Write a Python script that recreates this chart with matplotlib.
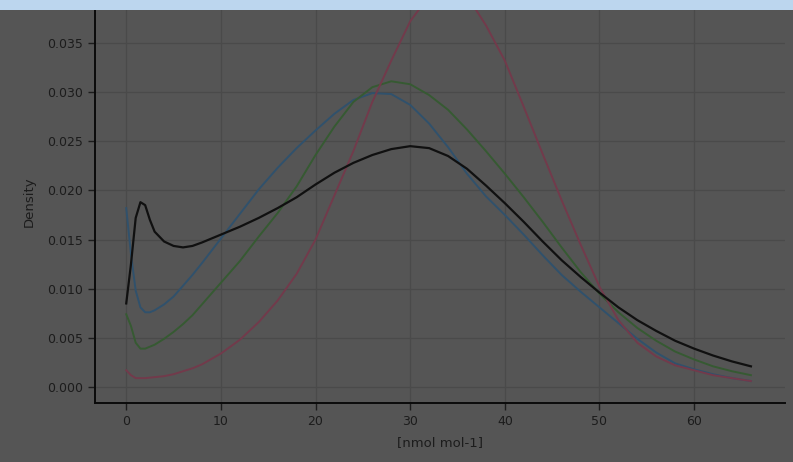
import matplotlib
matplotlib.use("Agg")
import matplotlib.pyplot as plt
from matplotlib.patches import Rectangle

x = [0, 0.5, 1, 1.5, 2, 2.5, 3, 4, 5, 6, 7, 8, 10, 12, 14, 16, 18, 20, 22, 24, 26,
     28, 30, 32, 34, 36, 38, 40, 42, 44, 46, 48, 50, 52, 54, 56, 58, 60, 62, 64, 66]

black = [0.0085, 0.0125, 0.0172, 0.0188, 0.0185, 0.0170, 0.0158, 0.0148, 0.01435, 0.0142,
         0.01435, 0.0147, 0.0155, 0.0163, 0.0172, 0.0182, 0.0193, 0.0206, 0.0218, 0.0228,
         0.0236, 0.0242, 0.0245, 0.0243, 0.0235, 0.0222, 0.0205, 0.0187, 0.0168, 0.0148,
         0.0129, 0.0112, 0.0096, 0.0081, 0.0068, 0.0057, 0.0047, 0.0039, 0.0032, 0.0026, 0.0021]

blue = [0.0182, 0.0135, 0.0098, 0.0081, 0.0076, 0.0076, 0.0078, 0.0084, 0.0092, 0.0103,
        0.0114, 0.0126, 0.0151, 0.0176, 0.0201, 0.0223, 0.0243, 0.0261, 0.0278, 0.0292,
        0.0299, 0.0298, 0.0287, 0.0268, 0.0244, 0.0217, 0.0194, 0.0175, 0.0155, 0.0134,
        0.0114, 0.0097, 0.0081, 0.0065, 0.0049, 0.0035, 0.0024, 0.0018, 0.0013, 0.0009, 0.0006]

green = [0.0074, 0.0062, 0.0045, 0.0039, 0.0039, 0.0041, 0.0043, 0.0049, 0.0056, 0.0064,
         0.0073, 0.0084, 0.0106, 0.0128, 0.0153, 0.0177, 0.0204, 0.0236, 0.0265, 0.0290,
         0.0305, 0.0311, 0.0308, 0.0297, 0.0282, 0.0262, 0.0240, 0.0217, 0.0193, 0.0168,
         0.0142, 0.0117, 0.0095, 0.0076, 0.0060, 0.0047, 0.0036, 0.0028, 0.0021, 0.0016, 0.0012]

red = [0.0017, 0.0012, 0.0009, 0.0009, 0.0009, 0.00095, 0.0010, 0.0011, 0.0013, 0.0016,
       0.0019, 0.0023, 0.0034, 0.0048, 0.0066, 0.0088, 0.0115, 0.0150, 0.0195, 0.0240,
       0.0290, 0.0332, 0.0372, 0.0398, 0.0408, 0.0398, 0.0368, 0.0332, 0.0285, 0.0237,
       0.0190, 0.0145, 0.0102, 0.0068, 0.0045, 0.0031, 0.0022, 0.0017, 0.0012, 0.0009, 0.0006]

bg = "#555555"
txt = "#1c1c1c"

fig = plt.figure(figsize=(7.93, 4.62), dpi=100, facecolor=bg)
ax = fig.add_axes([95/793, 59/462, 690/793, 403/462])
ax.set_facecolor(bg)

ax.plot(x, blue, color="#30516c", lw=1.4)
ax.plot(x, green, color="#365a32", lw=1.4)
ax.plot(x, red, color="#723a4b", lw=1.4)
ax.plot(x, black, color="#101010", lw=1.6)

ax.set_xlim(-3.3, 69.6)
ax.set_ylim(-0.00163, 0.03937)
ax.set_xticks([0, 10, 20, 30, 40, 50, 60])
ax.set_yticks([0.0, 0.005, 0.010, 0.015, 0.020, 0.025, 0.030, 0.035])
ax.set_yticklabels(["0.000", "0.005", "0.010", "0.015", "0.020", "0.025", "0.030", "0.035"])
ax.grid(True, color="#4a4a4a", lw=0.9)
ax.set_axisbelow(True)

for s in ["top", "right"]:
    ax.spines[s].set_visible(False)
for s in ["left", "bottom"]:
    ax.spines[s].set_color("#0a0a0a")
    ax.spines[s].set_linewidth(1.4)

ax.tick_params(colors=txt, labelcolor=txt, labelsize=9, length=5, width=1)
ax.set_xlabel("[nmol mol-1]", color=txt, fontsize=9.5, labelpad=6)
ax.set_ylabel("Density", color=txt, fontsize=9.5, labelpad=8)

fig.patches.append(Rectangle((0, 1 - 10/462), 1, 10/462, transform=fig.transFigure,
                             facecolor="#bcd6ee", edgecolor="none", zorder=10))

fig.savefig("out.png", dpi=100, facecolor=bg)
